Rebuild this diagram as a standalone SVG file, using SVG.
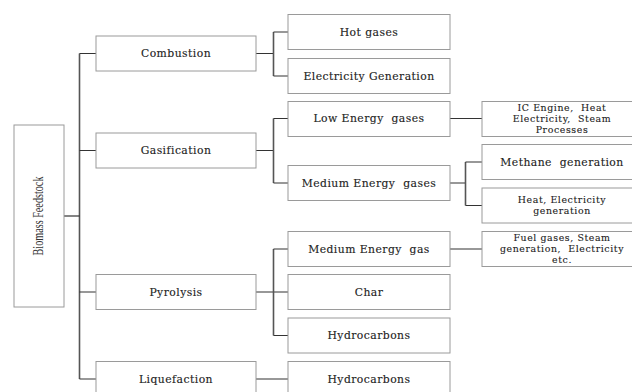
<svg xmlns="http://www.w3.org/2000/svg" width="632" height="392" viewBox="0 0 632 392">
<style>
.box{fill:#fff;stroke:#9a9a9a;stroke-width:1}
.t{font-family:"DejaVu Serif","Liberation Serif",serif;font-size:10.8px;fill:#222;stroke:#222;stroke-width:0.12;text-anchor:middle;dominant-baseline:central;letter-spacing:0.45px;white-space:pre}
.m{font-size:9.4px;letter-spacing:0.6px}
.h{stroke:#333;stroke-width:1.2;fill:none}
.v{stroke:#555;stroke-width:1.6;fill:none}
.bf{font-family:"Liberation Serif",serif;font-size:12px;fill:#333;text-anchor:middle;dominant-baseline:central}
</style>
<rect width="632" height="392" fill="#fff"/>
<g id="connectors">
<path class="v" d="M79.5 53.5 V379"/>
<path class="h" d="M64 216 H79.5"/>
<path class="h" d="M79.5 53.5 H96 M79.5 150.5 H96 M79.5 292 H96 M79.5 379 H96"/>
<path class="h" d="M256 53.5 H273.5 M256 150.5 H273.5 M256 292 H288 M256 379 H288"/>
<path class="v" d="M273.5 32 V76 M273.5 118.5 V183 M273.5 249 V335.5"/>
<path class="h" d="M273.5 32 H288 M273.5 76 H288 M273.5 118.5 H288 M273.5 183 H288 M273.5 249 H288 M273.5 335.5 H288"/>
<path class="h" d="M450 118.5 H482 M450 183 H465.5 M450 249 H482"/>
<path class="v" d="M465.5 162 V205.5"/>
<path class="h" d="M465.5 162 H482 M465.5 205.5 H482"/>
</g>
<g id="biomass"><rect class="box" x="14" y="125" width="50" height="182"/><text class="bf" transform="translate(38 216) rotate(-90) scale(0.85 1.15)">Biomass Feedstock</text></g>
<g id="combustion"><rect class="box" x="96" y="36" width="160" height="35"/><text class="t" x="176" y="53.5">Combustion</text></g>
<g id="gasification"><rect class="box" x="96" y="133" width="160" height="35"/><text class="t" x="176" y="150.5">Gasification</text></g>
<g id="pyrolysis"><rect class="box" x="96" y="274.5" width="160" height="35"/><text class="t" x="176" y="292">Pyrolysis</text></g>
<g id="liquefaction"><rect class="box" x="96" y="361.5" width="160" height="35"/><text class="t" x="176" y="379">Liquefaction</text></g>
<g id="hot-gases"><rect class="box" x="288" y="14.5" width="162" height="35"/><text class="t" x="369" y="32">Hot gases</text></g>
<g id="electricity-generation"><rect class="box" x="288" y="58.5" width="162" height="35"/><text class="t" x="369" y="76">Electricity Generation</text></g>
<g id="low-energy-gases"><rect class="box" x="288" y="101.5" width="162" height="35"/><text class="t" x="369" y="118.5">Low Energy  gases</text></g>
<g id="medium-energy-gases"><rect class="box" x="288" y="165.5" width="162" height="35"/><text class="t" x="369" y="183">Medium Energy  gases</text></g>
<g id="medium-energy-gas"><rect class="box" x="288" y="231.5" width="162" height="35"/><text class="t" x="369" y="249">Medium Energy  gas</text></g>
<g id="char"><rect class="box" x="288" y="274.5" width="162" height="35"/><text class="t" x="369" y="292">Char</text></g>
<g id="hydrocarbons-1"><rect class="box" x="288" y="318" width="162" height="35"/><text class="t" x="369" y="335.5">Hydrocarbons</text></g>
<g id="hydrocarbons-2"><rect class="box" x="288" y="361.5" width="162" height="35"/><text class="t" x="369" y="379">Hydrocarbons</text></g>
<g id="ic-engine"><rect class="box" x="482" y="101.5" width="160" height="35"/><text class="t m" x="562" y="107.5">IC Engine,  Heat</text><text class="t m" x="562" y="118.5">Electricity,  Steam</text><text class="t m" x="562" y="129.5">Processes</text></g>
<g id="methane-generation"><rect class="box" x="482" y="144.5" width="160" height="35"/><text class="t" x="562" y="162">Methane  generation</text></g>
<g id="heat-electricity"><rect class="box" x="482" y="188" width="160" height="35"/><text class="t m" x="562" y="199.5">Heat, Electricity</text><text class="t m" x="562" y="210.5">generation</text></g>
<g id="fuel-gases"><rect class="box" x="482" y="231.5" width="160" height="35"/><text class="t m" x="562" y="237">Fuel gases, Steam</text><text class="t m" x="562" y="248">generation,  Electricity</text><text class="t m" x="562" y="259">etc.</text></g>
</svg>
